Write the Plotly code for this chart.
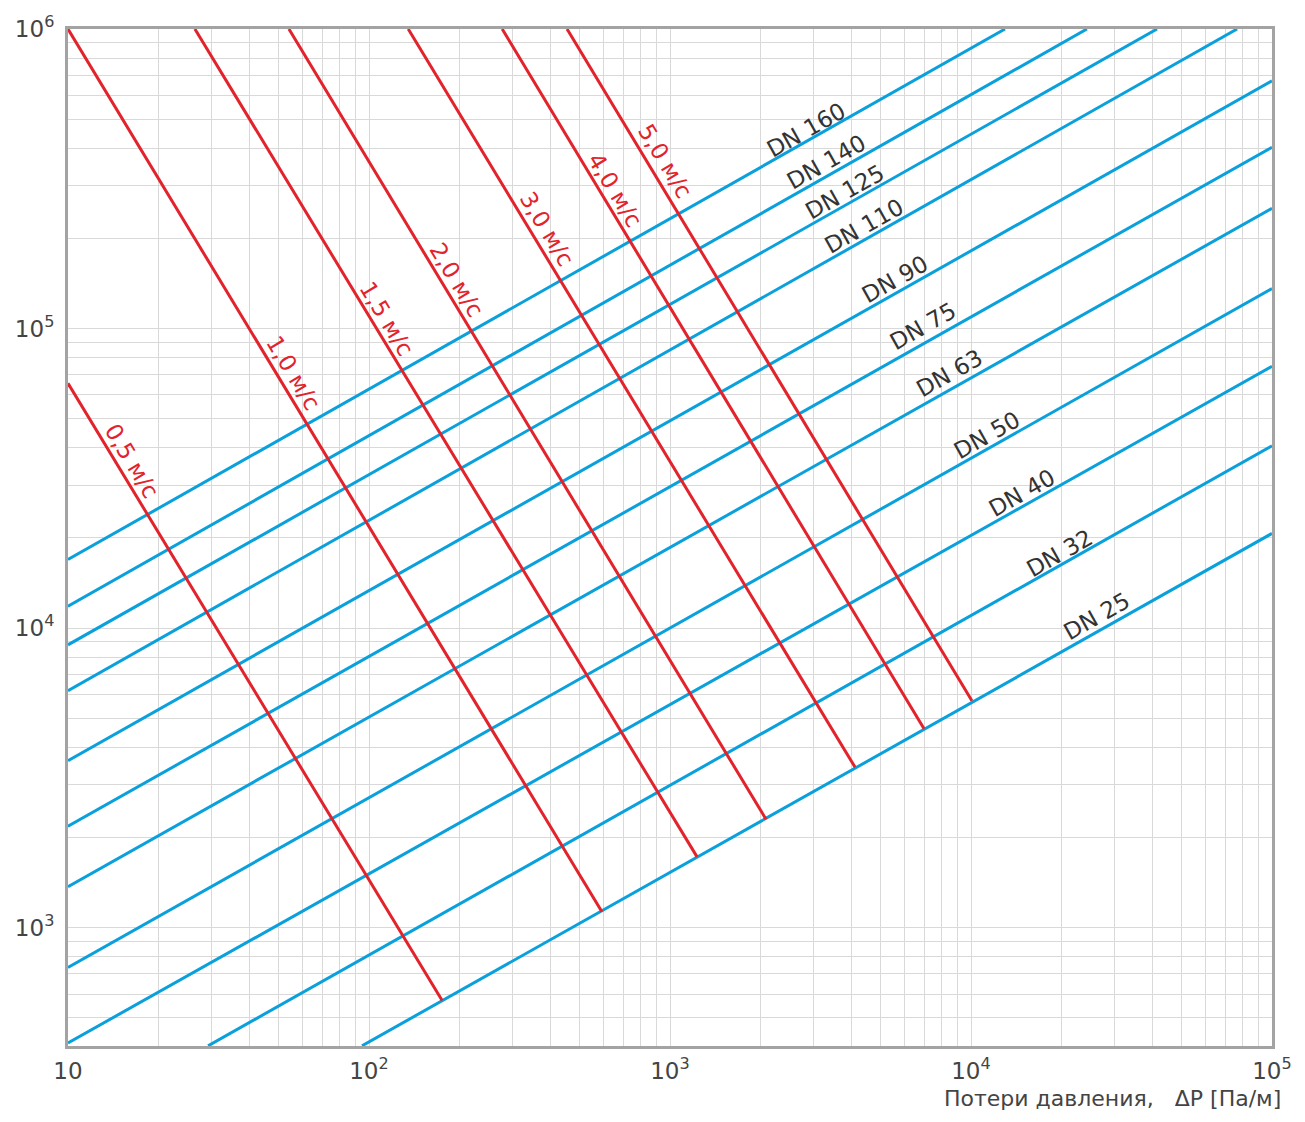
import plotly.graph_objects as go
import math

# ---------------- data ----------------
# Pipe diameter lines (blue): start and end points (ΔP [Па/м], flow)
dn_names = ["DN 160", "DN 140", "DN 125", "DN 110", "DN 90", "DN 75",
            "DN 63", "DN 50", "DN 40", "DN 32", "DN 25"]
dn_x0 = [10, 10, 10, 10, 10, 10, 10, 10, 10, 29.2, 94.8]
dn_y0 = [16940, 11830, 8790, 6180, 3610, 2180, 1370, 736, 412, 403, 403]
dn_x1 = [12970, 24270, 41500, 76560, 1e5, 1e5, 1e5, 1e5, 1e5, 1e5, 1e5]
dn_y1 = [1e6, 1e6, 1e6, 1e6, 671000, 403000, 252000, 136000, 74800, 40600, 20700]
# label positions (ΔP, flow)
dn_lab_x = [2830, 3300, 3810, 4420, 5600, 6930, 8510, 11300, 14750, 19770, 26240]
dn_lab_y = [461000, 361000, 285000, 220000, 146600, 102300, 70800, 44200, 28300, 17740, 10960]

# Velocity lines (red)
v_names = ["0,5 м/с", "1,0 м/с", "1,5 м/с", "2,0 м/с", "3,0 м/с", "4,0 м/с", "5,0 м/с"]
v_x0 = [10, 10, 26.4, 54.2, 135, 277, 455]
v_y0 = [65600, 1e6, 1e6, 1e6, 1e6, 1e6, 1e6]
v_x1 = [175, 594, 1230, 2084, 4121, 6982, 10070]
v_y1 = [571, 1130, 1722, 2300, 3428, 4613, 5715]
v_lab_x = [16.3, 56.0, 114.8, 195.9, 390, 656, 962]
v_lab_y = [36100, 70800, 107900, 145500, 214800, 289700, 361400]

x_tickvals = [10, 100, 1000, 10000, 100000]
x_ticktext = ["10", "10<sup>2</sup>", "10<sup>3</sup>", "10<sup>4</sup>", "10<sup>5</sup>"]
y_tickvals = [1000, 10000, 100000, 1000000]
y_ticktext = ["10<sup>3</sup>", "10<sup>4</sup>", "10<sup>5</sup>", "10<sup>6</sup>"]
x_title = "Потери давления,   ΔP [Па/м]"

# ---------------- styles ----------------
BLUE = "#0AA0DC"
RED = "#E2232B"
GRID = "#d9d9d9"
BORDER = "#a3a3a3"
TXT = "#333333"
TICK = "#444444"
FONT = "DejaVu Sans"

fig = go.Figure()

for i, n in enumerate(dn_names):
    fig.add_trace(go.Scatter(x=[dn_x0[i], dn_x1[i]], y=[dn_y0[i], dn_y1[i]],
                             mode="lines", line=dict(color=BLUE, width=3),
                             name=n, showlegend=False, hoverinfo="skip"))

for i, n in enumerate(v_names):
    fig.add_trace(go.Scatter(x=[v_x0[i], v_x1[i]], y=[v_y0[i], v_y1[i]],
                             mode="lines", line=dict(color=RED, width=3),
                             name=n, showlegend=False, hoverinfo="skip"))

annotations = []
for i, n in enumerate(dn_names):
    annotations.append(dict(x=math.log10(dn_lab_x[i]), y=math.log10(dn_lab_y[i]),
                            xref="x", yref="y", text=n, showarrow=False,
                            textangle=-29.5, font=dict(family=FONT, size=23, color=TXT)))
for i, n in enumerate(v_names):
    annotations.append(dict(x=math.log10(v_lab_x[i]), y=math.log10(v_lab_y[i]),
                            xref="x", yref="y", text=n, showarrow=False,
                            textangle=59, font=dict(family=FONT, size=23, color=RED)))
annotations.append(dict(x=1.009, y=-0.052, xref="paper", yref="paper",
                        xanchor="right", yanchor="middle", text=x_title,
                        showarrow=False, font=dict(family=FONT, size=22, color=TICK)))

axis_common = dict(type="log", showgrid=True, gridcolor=GRID, gridwidth=1,
                   minor=dict(showgrid=True, gridcolor=GRID, gridwidth=1, dtick="D1"),
                   showline=True, linecolor=BORDER, linewidth=3, mirror=True,
                   ticks="", zeroline=False,
                   tickfont=dict(family=FONT, size=23, color=TICK))

fig.update_xaxes(**axis_common, range=[1, 5], tickvals=x_tickvals, ticktext=x_ticktext,
                 ticklabelstandoff=2)
fig.update_yaxes(**axis_common, range=[2.6047, 6], tickvals=y_tickvals, ticktext=y_ticktext,
                 ticklabelstandoff=6)

fig.update_layout(width=1305, height=1122,
                  margin=dict(l=68, r=33, t=24, b=76),
                  paper_bgcolor="white", plot_bgcolor="white",
                  showlegend=False, annotations=annotations)

# remove the default page margin so the figure sits at the window's top-left corner
fig.write_html("out.html",
               config={"displayModeBar": False},
               post_script="document.body.style.margin='0';"
                           "document.documentElement.style.overflow='hidden';")
